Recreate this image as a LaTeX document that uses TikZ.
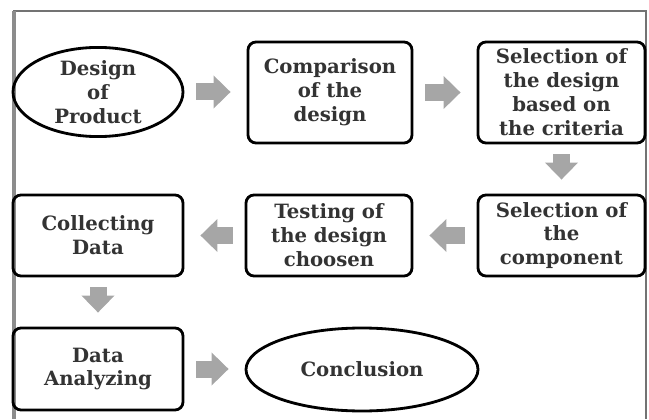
\documentclass[tikz,border=0pt]{standalone}
\usepackage{fontspec}
\setmainfont{DejaVu Serif}
\usepackage{xcolor}
\usetikzlibrary{arrows.meta, shapes.geometric}

\begin{document}
\begin{tikzpicture}[line width=2pt,
    stage/.style={draw=black, rounded corners=0.2cm, align=center, inner sep=0pt,
        font=\fontsize{14}{17}\selectfont\bfseries, text=black!80},
    oval/.style={draw=black, ellipse, align=center, inner sep=0pt,
        font=\fontsize{14}{17}\selectfont\bfseries, text=black!80},
    flow/.style={draw=black!35, line width=0.425cm,
        -{Triangle[length=0.425cm, width=0.8cm]}, shorten <=0.3cm, shorten >=0.4cm},
    down/.style={flow, shorten <=0.25cm, shorten >=0.35cm}]
            \useasboundingbox (0,0) rectangle (16.225,10.475);
            % frame round the chart
            \draw[black!55, line width=1.3pt] (0.35,0) |- (16.15,10.2) -- (16.15,0);
            \draw[black!45, line width=2.2pt] (0.35,0) -- (0.35,10.2);
            % first row
            \node[oval, minimum width=4.25cm, minimum height=2.05cm] (design) at (2.45,8.175) {Design\\of\\Product};
            \node[stage, minimum width=4.1cm, minimum height=2.525cm] (compare) at (8.25,8.1625) {Comparison\\of the\\design};
            \node[stage, minimum width=4.175cm, minimum height=2.525cm] (criteria) at (14.0375,8.1625) {Selection of\\the design\\based on\\the criteria};
            % second row
            \node[stage, minimum width=4.175cm, minimum height=2.025cm] (component) at (14.0375,4.5875) {Selection of\\the\\component};
            \node[stage, minimum width=4.15cm, minimum height=2.025cm] (testing) at (8.225,4.5875) {Testing of\\the design\\choosen};
            \node[stage, minimum width=4.25cm, minimum height=2.025cm] (collect) at (2.45,4.5875) {Collecting\\Data};
            % last row
            \node[stage, minimum width=4.25cm, minimum height=2.05cm] (analyze) at (2.45,1.25) {Data\\Analyzing};
            \node[oval, minimum width=5.8cm, minimum height=2.075cm] (conclusion) at (9.05,1.2375) {Conclusion};
            % block arrows
            \draw[flow] (design.east) -- (design.east -| compare.west);
            \draw[flow] (compare) -- (criteria);
            \draw[down] (criteria) -- (component);
            \draw[flow] (component) -- (testing);
            \draw[flow] (testing) -- (collect);
            \draw[down] (collect) -- (analyze);
            \draw[flow] (analyze.east) -- (analyze.east -| conclusion.west);
        \end{tikzpicture}
\end{document}
